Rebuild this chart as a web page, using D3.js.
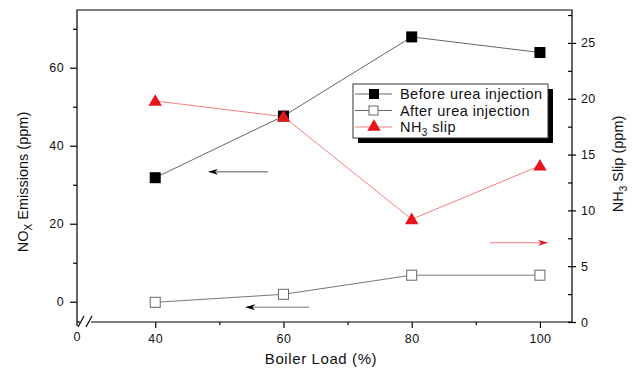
<!DOCTYPE html>
<html>
<head>
<meta charset="utf-8">
<script src="https://cdn.jsdelivr.net/npm/d3@7"></script>
<style>
  body { margin: 0; background: #fff; }
  text { font-family: "Liberation Sans", Arial, sans-serif; fill: #111; }
</style>
</head>
<body>
<div class="chart"></div>
<script>
// boiler load (%)
const loads = [40, 60, 80, 100];
// NOx emissions (ppm), left axis
const beforeUrea = [31.8, 47.6, 67.9, 63.9];
const afterUrea = [-0.15, 1.9, 6.8, 6.8];
// NH3 slip (ppm), right axis
const nh3Slip = [19.8, 18.4, 9.2, 14.0];

const xTicks = [40, 60, 80, 100];
const xMinor = [50, 70, 90];
const leftTicks = [0, 20, 40, 60];
const leftMinor = [10, 30, 50, 70];
const rightTicks = [0, 5, 10, 15, 20, 25];
const rightMinor = [2.5, 7.5, 12.5, 17.5, 22.5, 27.5];

// arrows: [x1, y1, x2, y2] in data units
const arrowBefore = [57.6, 33.3, 48.4, 33.3];
const arrowAfter = [64.0, -1.4, 54.2, -1.4];
const arrowSlip = [92.2, 7.1, 101.1, 7.1];

let width = 635, height = 369;
let plot = { left: 77, right: 572, top: 10, bottom: 322 };

let svg = d3.select(".chart").append("svg")
  .attr("width", width)
  .attr("height", height);

let x = d3.scaleLinear().domain([27.8, 105]).range([plot.left, plot.right]);
let yL = d3.scaleLinear().domain([-5.2, 74.8]).range([plot.bottom, plot.top]);
let yR = d3.scaleLinear().domain([0, 27.95]).range([plot.bottom, plot.top]);

let defs = svg.append("defs");
[["headBlack", "#000"], ["headRed", "#e8141c"]].forEach(m => {
  defs.append("marker")
    .attr("id", m[0])
    .attr("viewBox", "0 0 10 6")
    .attr("refX", 9).attr("refY", 3)
    .attr("markerWidth", 10).attr("markerHeight", 6)
    .attr("markerUnits", "userSpaceOnUse")
    .attr("orient", "auto")
    .append("path")
    .attr("d", "M0,0L10,3L0,6L3,3Z")
    .attr("fill", m[1]);
});

// frame (bottom handled separately for the break)
svg.append("path")
  .attr("d", `M${plot.left},${plot.bottom + 4}V${plot.top}H${plot.right}V${plot.bottom}`)
  .attr("fill", "none").attr("stroke", "#000").attr("stroke-width", 1.2);
svg.append("line")
  .attr("x1", plot.left).attr("x2", 80).attr("y1", plot.bottom).attr("y2", plot.bottom)
  .attr("stroke", "#000").attr("stroke-width", 1.2);
svg.append("line")
  .attr("x1", 91).attr("x2", plot.right).attr("y1", plot.bottom).attr("y2", plot.bottom)
  .attr("stroke", "#000").attr("stroke-width", 1.2);
[[78, 327, 84, 316], [86, 327, 92, 316]].forEach(s => {
  svg.append("line")
    .attr("x1", s[0]).attr("y1", s[1]).attr("x2", s[2]).attr("y2", s[3])
    .attr("stroke", "#000").attr("stroke-width", 1.2);
});

// axes
function styleAxis(g) {
  g.select(".domain").remove();
  g.selectAll("line").attr("stroke", "#000").attr("stroke-width", 1.2);
  g.selectAll("text").style("font-size", "12.5px").style("letter-spacing", "0.4px").attr("fill", "#111");
}

svg.append("g")
  .attr("transform", `translate(0,${plot.bottom})`)
  .call(d3.axisBottom(x).tickValues(xTicks).tickSize(6).tickPadding(6))
  .call(styleAxis);
svg.append("g")
  .attr("transform", `translate(0,${plot.bottom})`)
  .call(d3.axisBottom(x).tickValues(xMinor).tickSize(3).tickFormat(""))
  .call(styleAxis);
svg.append("text")
  .attr("x", plot.left).attr("y", 341)
  .attr("text-anchor", "middle")
  .style("font-size", "12.5px")
  .text("0");

svg.append("g")
  .attr("transform", `translate(${plot.left},0)`)
  .call(d3.axisLeft(yL).tickValues(leftTicks).tickSize(7).tickPadding(6))
  .call(styleAxis);
svg.append("g")
  .attr("transform", `translate(${plot.left},0)`)
  .call(d3.axisLeft(yL).tickValues(leftMinor).tickSize(4).tickFormat(""))
  .call(styleAxis);

// right axis: major ticks cross the line, minor ones point in
svg.append("g")
  .attr("transform", `translate(${plot.right},0)`)
  .call(d3.axisRight(yR).tickValues(rightTicks).tickSize(4).tickPadding(5))
  .call(styleAxis)
  .selectAll("line").attr("x1", -4);
svg.append("g")
  .attr("transform", `translate(${plot.right},0)`)
  .call(d3.axisRight(yR).tickValues(rightMinor).tickSize(-4).tickFormat(""))
  .call(styleAxis);

// axis titles
svg.append("text")
  .attr("x", 321).attr("y", 364)
  .attr("text-anchor", "middle")
  .style("font-size", "15px")
  .style("letter-spacing", "0.6px")
  .text("Boiler Load (%)");

let tl = svg.append("text")
  .attr("transform", "translate(28,182) rotate(-90)")
  .attr("text-anchor", "middle")
  .style("font-size", "14.5px");
tl.append("tspan").text("NO");
tl.append("tspan").attr("dy", 4).style("font-size", "10px").text("X");
tl.append("tspan").attr("dy", -4).text(" Emissions (ppm)");

let tr = svg.append("text")
  .attr("transform", "translate(623,164) rotate(-90)")
  .attr("text-anchor", "middle")
  .style("font-size", "14.5px");
tr.append("tspan").text("NH");
tr.append("tspan").attr("dy", 4).style("font-size", "10px").text("3");
tr.append("tspan").attr("dy", -4).text(" Slip (ppm)");

// series
let lineL = d3.line().x((d, i) => x(loads[i])).y(d => yL(d));
let lineR = d3.line().x((d, i) => x(loads[i])).y(d => yR(d));
let tri = d3.symbol().type(d3.symbolTriangle).size(78);

svg.append("path").attr("d", lineL(beforeUrea))
  .attr("fill", "none").attr("stroke", "#666").attr("stroke-width", 1);
svg.append("path").attr("d", lineL(afterUrea))
  .attr("fill", "none").attr("stroke", "#777").attr("stroke-width", 1);
svg.append("path").attr("d", lineR(nh3Slip))
  .attr("fill", "none").attr("stroke", "#f27f7f").attr("stroke-width", 1);

svg.selectAll(".before")
  .data(beforeUrea).join("rect")
  .attr("x", (d, i) => x(loads[i]) - 5.5)
  .attr("y", d => yL(d) - 5.5)
  .attr("width", 11).attr("height", 11)
  .attr("fill", "#000");

svg.selectAll(".after")
  .data(afterUrea).join("rect")
  .attr("x", (d, i) => x(loads[i]) - 5)
  .attr("y", d => yL(d) - 5)
  .attr("width", 10).attr("height", 10)
  .attr("fill", "#fff").attr("stroke", "#666").attr("stroke-width", 1);

svg.selectAll(".slip")
  .data(nh3Slip).join("path")
  .attr("d", tri)
  .attr("transform", (d, i) => `translate(${x(loads[i])},${yR(d) + 1})`)
  .attr("fill", "#e8141c");

// arrows
function arrow(a, yScale, color, head) {
  svg.append("line")
    .attr("x1", x(a[0])).attr("y1", yScale(a[1]))
    .attr("x2", x(a[2])).attr("y2", yScale(a[3]))
    .attr("stroke", color).attr("stroke-width", 1)
    .attr("marker-end", `url(#${head})`);
}
arrow(arrowBefore, yL, "#555", "headBlack");
arrow(arrowAfter, yL, "#777", "headBlack");
arrow(arrowSlip, yR, "#f27f7f", "headRed");

// legend
let lg = svg.append("g").attr("transform", "translate(353,84)");
lg.append("rect").attr("x", 5).attr("y", 5).attr("width", 195).attr("height", 54).attr("fill", "#000");
lg.append("rect").attr("x", 0).attr("y", 0).attr("width", 195).attr("height", 54)
  .attr("fill", "#fff").attr("stroke", "#333").attr("stroke-width", 1);

let items = ["Before urea injection", "After urea injection", "NH3 slip"];
items.forEach((name, i) => {
  let yy = 10 + i * 16.5;
  lg.append("line").attr("x1", 2).attr("x2", 39).attr("y1", yy).attr("y2", yy)
    .attr("stroke", i === 2 ? "#f27f7f" : "#666").attr("stroke-width", 1);
  if (i === 0) {
    lg.append("rect").attr("x", 16).attr("y", yy - 5).attr("width", 10).attr("height", 10).attr("fill", "#000");
  } else if (i === 1) {
    lg.append("rect").attr("x", 16).attr("y", yy - 4.5).attr("width", 9).attr("height", 9)
      .attr("fill", "#fff").attr("stroke", "#666");
  } else {
    lg.append("path").attr("d", tri).attr("transform", `translate(21,${yy})`).attr("fill", "#e8141c");
  }
  let t = lg.append("text").attr("x", 47).attr("y", yy + 5)
    .style("font-size", "14.5px").style("letter-spacing", "0.45px");
  if (i === 2) {
    t.append("tspan").text("NH");
    t.append("tspan").attr("dy", 4).style("font-size", "10px").text("3");
    t.append("tspan").attr("dy", -4).text(" slip");
  } else {
    t.text(name);
  }
});
</script>
</body>
</html>
